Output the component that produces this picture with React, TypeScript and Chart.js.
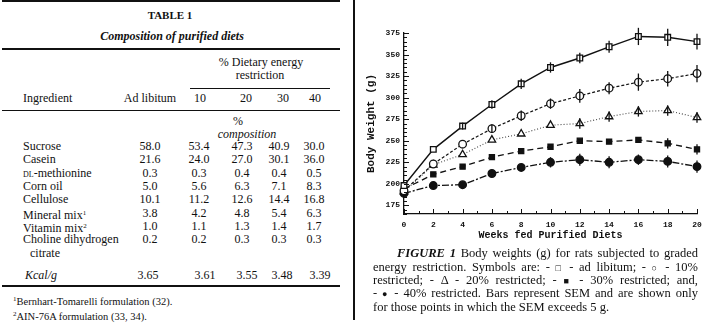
import React, { useEffect, useRef } from "react";
import { Chart, registerables } from "chart.js";
Chart.register(...registerables);

// ---- Figure data ----
const weeks = [0, 2, 4, 6, 8, 10, 12, 14, 16, 18, 20];
const adLibitum = [198, 240, 267, 292, 316, 335, 346, 359, 371, 370, 365];
const restricted10 = [192, 223, 246, 264, 279, 293, 302, 311, 318, 322, 328];
const restricted20 = [191, 222, 234, 251, 258, 268, 270, 278, 284, 285, 277];
const restricted30 = [194, 211, 220, 231, 238, 243, 250, 249, 251, 247, 240];
const restricted40 = [189, 198, 199, 212, 219, 225, 228, 225, 228, 226, 220];
const semAdLibitum = [0, 0, 4, 5, 6, 6, 6, 7, 10, 10, 9];
const sem10 = [0, 0, 0, 5, 6, 6, 8, 7, 10, 9, 10];
const sem20 = [0, 0, 0, 0, 0, 0, 6, 6, 6, 6, 6];
const sem30 = [0, 0, 0, 0, 0, 0, 0, 0, 0, 6, 6];
const sem40 = [0, 0, 0, 0, 0, 6, 7, 7, 6, 7, 7];
const yTickValues = [175, 200, 225, 250, 275, 300, 325, 350, 375];

// ---- Table data ----
const ingredientNames = ["Sucrose", "Casein", "DL-methionine", "Corn oil", "Cellulose", "Mineral mix", "Vitamin mix", "Choline dihydrogen"];
const ingredientNotes = ["", "", "", "", "", "1", "2", ""];
const compAdLibitum = [58.0, 21.6, 0.3, 5.0, 10.1, 3.8, 1.0, 0.2];
const comp10 = [53.4, 24.0, 0.3, 5.6, 11.2, 4.2, 1.1, 0.2];
const comp20 = [47.3, 27.0, 0.4, 6.3, 12.6, 4.8, 1.3, 0.3];
const comp30 = [40.9, 30.1, 0.4, 7.1, 14.4, 5.4, 1.4, 0.3];
const comp40 = [30.0, 36.0, 0.5, 8.3, 16.8, 6.3, 1.7, 0.3];
const kcalPerGram = [3.65, 3.61, 3.55, 3.48, 3.39];
const restrictionLevels = ["10", "20", "30", "40"];

const SERIF = '"Liberation Serif", "Times New Roman", serif';

function T(props: { x: number; y: number; align?: "left" | "center"; children: any; style?: any }) {
  const { x, y, align = "left", children, style } = props;
  return (
    <div
      style={{
        position: "absolute",
        left: x,
        top: y - 7,
        height: 14,
        lineHeight: "14px",
        whiteSpace: "nowrap",
        transform: align === "center" ? "translateX(-50%)" : undefined,
        ...style,
      }}
    >
      {children}
    </div>
  );
}

function Rule(props: { x: number; y: number; w: number; h: number }) {
  return <div style={{ position: "absolute", left: props.x, top: props.y, width: props.w, height: props.h, background: "#111" }} />;
}

function ChartPanel() {
  const ref = useRef<HTMLCanvasElement>(null);
  useEffect(() => {
    if (!ref.current) return;
    const semSeries = [semAdLibitum, sem10, sem20, sem30, sem40];
    const extras = {
      id: "extras",
      afterDatasetsDraw(chart: any) {
        const ctx = chart.ctx;
        const xs = chart.scales.x;
        const ys = chart.scales.y;
        ctx.save();
        ctx.strokeStyle = "#111";
        ctx.lineWidth = 1.3;
        chart.data.datasets.forEach((ds: any, di: number) => {
          const sem = semSeries[di];
          ds.data.forEach((p: any, i: number) => {
            if (!sem[i]) return;
            const px = xs.getPixelForValue(p.x);
            ctx.beginPath();
            ctx.moveTo(px, ys.getPixelForValue(p.y - sem[i]));
            ctx.lineTo(px, ys.getPixelForValue(p.y + sem[i]));
            ctx.stroke();
          });
        });
        const { left, bottom } = chart.chartArea;
        ctx.lineWidth = 1;
        for (let v = 165; v <= 375; v += 5) {
          const py = Math.round(ys.getPixelForValue(v)) + 0.5;
          const len = v % 25 === 0 ? 5 : 3;
          ctx.beginPath();
          ctx.moveTo(left, py);
          ctx.lineTo(left + len, py);
          ctx.stroke();
        }
        for (let w = 0; w <= 20; w += 1) {
          const px = Math.round(xs.getPixelForValue(w)) + 0.5;
          const len = w % 2 === 0 ? 5 : 3;
          ctx.beginPath();
          ctx.moveTo(px, bottom);
          ctx.lineTo(px, bottom - len);
          ctx.stroke();
        }
        ctx.restore();
      },
    };
    const mk = (vals: number[], style: string, fill: string, radius: number, dash: number[], width: number, color: string) => ({
      data: weeks.map((w, i) => ({ x: w, y: vals[i] })),
      borderColor: color,
      borderWidth: width,
      borderDash: dash,
      pointStyle: style,
      pointRadius: radius,
      pointBackgroundColor: fill,
      pointBorderColor: "#111",
      pointBorderWidth: 1.3,
      clip: false as any,
      tension: 0,
    });
    const chart = new Chart(ref.current, {
      type: "line",
      data: {
        datasets: [
          mk(adLibitum, "rect", "#fff", 4, [], 1.4, "#111"),
          mk(restricted10, "circle", "#fff", 3.8, [3, 2], 1.2, "#111"),
          mk(restricted20, "triangle", "#fff", 4.3, [1, 2], 1.1, "#444"),
          mk(restricted30, "rect", "#111", 3.6, [6, 4], 1.3, "#111"),
          mk(restricted40, "circle", "#111", 3.8, [7, 2, 2, 2], 1.3, "#111"),
        ] as any,
      },
      options: {
        animation: false,
        responsive: false,
        layout: { padding: { top: 13, right: 13, left: 0, bottom: 0 } },
        plugins: { legend: { display: false }, tooltip: { enabled: false } },
        scales: {
          x: {
            type: "linear",
            min: 0,
            max: 20,
            grid: { display: false, drawTicks: false },
            border: { display: true, color: "#111", width: 1.3 },
            ticks: {
              stepSize: 2,
              padding: 6,
              color: "#111",
              maxRotation: 0,
              font: { family: '"Liberation Mono", monospace', size: 8, weight: "bold" },
            },
            title: {
              display: true,
              text: "Weeks fed Purified Diets",
              color: "#111",
              padding: { top: 0, bottom: 4 },
              font: { family: '"Liberation Mono", monospace', size: 10, weight: "bold" },
            },
            afterFit: (s: any) => {
              s.height = 31;
            },
          },
          y: {
            type: "linear",
            min: 165,
            max: 375,
            grid: { display: false, drawTicks: false },
            border: { display: true, color: "#111", width: 1.3 },
            afterBuildTicks: (s: any) => {
              s.ticks = yTickValues.map((v) => ({ value: v }));
            },
            ticks: {
              padding: 4,
              color: "#111",
              font: { family: '"Liberation Mono", monospace', size: 8, weight: "bold" },
            },
            title: {
              display: true,
              text: "Body Weight (g)",
              color: "#111",
              padding: { top: 5, bottom: 0 },
              font: { family: '"Liberation Mono", monospace', size: 11, weight: "bold" },
            },
            afterFit: (s: any) => {
              s.width = 44;
            },
          },
        },
      },
      plugins: [extras],
    });
    return () => chart.destroy();
  }, []);
  return (
    <canvas
      ref={ref}
      width={350}
      height={225}
      style={{ position: "absolute", left: 360, top: 20, width: 350, height: 225, display: "block" }}
    />
  );
}

const valueCols = [150, 199, 242, 279, 314];
const kcalCols = [148, 205, 247, 282, 320];

export default function App() {
  const rowsY = ingredientNames.map((_, i) => 146 + i * 13.3);
  const comps = [compAdLibitum, comp10, comp20, comp30, comp40];
  const sym = { fontSize: 9 };
  const capLine = (y: number, x: number, w: number, content: any, last = false) => (
    <div
      style={{
        position: "absolute",
        left: x,
        top: y - 7,
        width: w,
        height: 14,
        lineHeight: "14px",
        whiteSpace: "nowrap",
        textAlign: last ? "left" : "justify",
        textAlignLast: last ? "left" : "justify",
      } as any}
    >
      {content}
    </div>
  );
  return (
    <div
      style={{
        position: "fixed",
        left: 0,
        top: 0,
        width: 713,
        height: 332,
        background: "#fff",
        overflow: "hidden",
        fontFamily: SERIF,
        color: "#111",
      }}
    >
      {/* ---- Table ---- */}
      <div style={{ position: "absolute", left: 0, top: 0, width: 352, height: 332, fontSize: 12 }}>
        <Rule x={2} y={0} w={338} h={2} />
        <T x={170} y={15} align="center" style={{ fontWeight: "bold", fontSize: 11 }}>TABLE 1</T>
        <T x={172} y={36} align="center" style={{ fontWeight: "bold", fontStyle: "italic", fontSize: 12 }}>Composition of purified diets</T>
        <Rule x={2} y={48} w={338} h={1.5} />
        <T x={261} y={62} align="center">% Dietary energy</T>
        <T x={260} y={75} align="center">restriction</T>
        <Rule x={190} y={88} w={140} h={1} />
        <T x={23} y={98}>Ingredient</T>
        <T x={150} y={98} align="center">Ad libitum</T>
        {restrictionLevels.map((r, i) => (
          <T key={r} x={[200, 246, 283, 315][i]} y={98} align="center">{r}</T>
        ))}
        <Rule x={2} y={110} w={338} h={1} />
        <T x={238} y={121} align="center">%</T>
        <T x={247} y={134} align="center" style={{ fontStyle: "italic" }}>composition</T>
        {ingredientNames.map((name, i) => (
          <React.Fragment key={name}>
            <T x={23} y={rowsY[i]}>
              {name.startsWith("DL-") ? (
                <>
                  <span style={{ fontVariant: "small-caps" }}>dl</span>
                  {name.slice(2)}
                </>
              ) : (
                name
              )}
              {ingredientNotes[i] ? <sup style={{ fontSize: 7, verticalAlign: "4px" }}>{ingredientNotes[i]}</sup> : null}
            </T>
            {comps.map((col, c) => (
              <T key={c} x={valueCols[c]} y={rowsY[i]} align="center">{col[i].toFixed(1)}</T>
            ))}
          </React.Fragment>
        ))}
        <T x={30} y={253}>citrate</T>
        <T x={25} y={275} style={{ fontStyle: "italic" }}>Kcal/g</T>
        {kcalPerGram.map((k, c) => (
          <T key={c} x={kcalCols[c]} y={275} align="center">{k.toFixed(2)}</T>
        ))}
        <Rule x={2} y={285} w={338} h={2} />
        <T x={13} y={299} style={{ fontSize: 10.5 }}>
          <sup style={{ fontSize: 7, verticalAlign: "4px" }}>1</sup>Bernhart-Tomarelli formulation (32).
        </T>
        <T x={13} y={314} style={{ fontSize: 10.5 }}>
          <sup style={{ fontSize: 7, verticalAlign: "4px" }}>2</sup>AIN-76A formulation (33, 34).
        </T>
      </div>
      <Rule x={353} y={0} w={1.5} h={320} />

      {/* ---- Figure ---- */}
      <ChartPanel />
      <div style={{ position: "absolute", left: 0, top: 0, width: 713, height: 332, fontSize: 12.5 }}>
        {capLine(253, 397, 301, <><b><i>FIGURE 1</i></b> Body weights (g) for rats subjected to graded</>)}
        {capLine(267, 373, 325, <>energy restriction. Symbols are: - <span style={sym}>□</span> - ad libitum; - <span style={sym}>○</span> - 10%</>)}
        {capLine(280, 373, 325, <>restricted; - Δ - 20% restricted; - <span style={sym}>■</span> - 30% restricted; and,</>)}
        {capLine(293, 373, 325, <>- <span style={sym}>●</span> - 40% restricted. Bars represent SEM and are shown only</>)}
        {capLine(307, 373, 325, <>for those points in which the SEM exceeds 5 g.</>, true)}
      </div>
    </div>
  );
}
